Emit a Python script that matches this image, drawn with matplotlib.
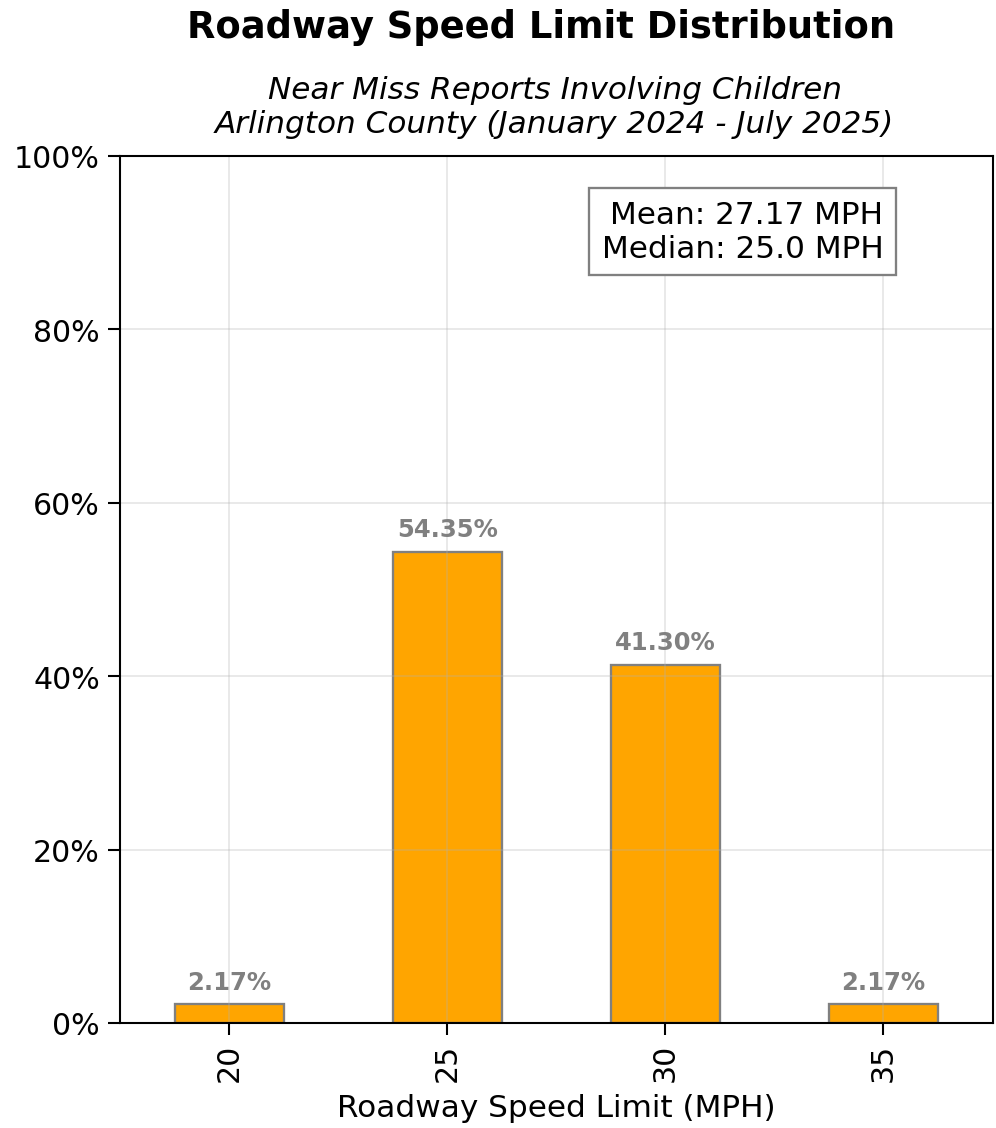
import matplotlib.pyplot as plt
from matplotlib.ticker import PercentFormatter

speed_limits = ["20", "25", "30", "35"]
share_pct = [2.17, 54.35, 41.30, 2.17]
mean_mph = 27.17
median_mph = 25.0

BAR_COLOR = "#FFA500"
EDGE_COLOR = "#808080"


def main():
    fig = plt.figure(figsize=(6, 6.8), dpi=166)
    ax = fig.add_axes([0.1205, 0.093, 0.876, 0.768])

    x = range(len(speed_limits))
    ax.bar(x, share_pct, width=0.5, color=BAR_COLOR, edgecolor=EDGE_COLOR, linewidth=1)
    ax.set_xlim(-0.5, len(speed_limits) - 0.5)
    ax.set_ylim(0, 100)
    ax.set_xticks(list(x))
    ax.set_xticklabels(speed_limits, rotation=90)
    ax.yaxis.set_major_formatter(PercentFormatter(decimals=0))
    ax.tick_params(axis="both", labelsize=13, length=5.2, width=0.9)
    for s in ax.spines.values():
        s.set_linewidth(0.9)
    ax.grid(True, alpha=0.3)
    ax.set_xlabel("Roadway Speed Limit (MPH)", fontsize=13.5, labelpad=5)

    for i, v in enumerate(share_pct):
        ax.text(i, v + 1.2, f"{v:.2f}%", ha="center", va="bottom",
                fontsize=10.5, fontweight="bold", color="gray")

    ax.text(0.875, 0.949, f"Mean: {mean_mph} MPH\nMedian: {median_mph} MPH",
            transform=ax.transAxes, ha="right", va="top", fontsize=13.5,
            multialignment="right",
            bbox=dict(boxstyle="square,pad=0.4", facecolor="white", edgecolor="gray"))

    fig.text(0.543, 0.976, "Roadway Speed Limit Distribution", ha="center", va="center",
             fontsize=16, fontweight="bold")
    fig.text(0.557, 0.9047, "Near Miss Reports Involving Children\nArlington County (January 2024 - July 2025)",
             ha="center", va="center", fontsize=13.5, style="italic", linespacing=1.25)

    fig.savefig("out.png", dpi=166)
    plt.close(fig)


if __name__ == "__main__":
    main()
